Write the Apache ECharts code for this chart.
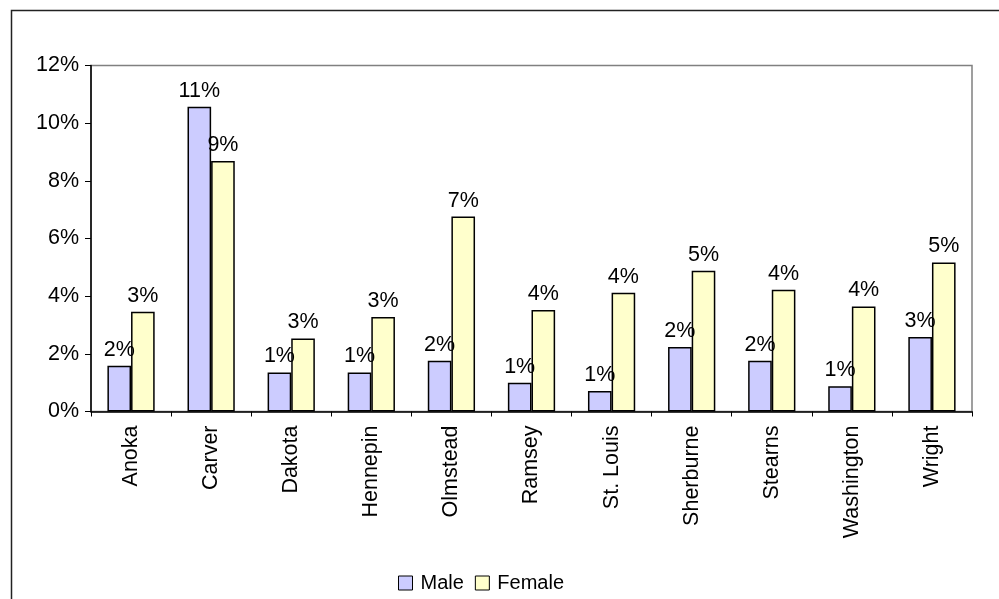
<!DOCTYPE html>
<html>
<head>
<meta charset="utf-8">
<script src="https://cdn.jsdelivr.net/npm/echarts@6/dist/echarts.min.js"></script>
<style>html,body{margin:0;padding:0;background:#fff}#c{width:999px;height:599px}</style>
</head>
<body>
<div id="c"></div>
<script>
const categories = ['Anoka','Carver','Dakota','Hennepin','Olmstead','Ramsey','St. Louis','Sherburne','Stearns','Washington','Wright'];
const maleValues = [1.59, 10.57, 1.35, 1.35, 1.76, 1.00, 0.71, 2.24, 1.76, 0.88, 2.58];
const femaleValues = [3.46, 8.69, 2.53, 3.28, 6.76, 3.52, 4.12, 4.88, 4.22, 3.64, 5.17];
const seriesNames = ['Male', 'Female'];
const yTicks = [0, 2, 4, 6, 8, 10, 12];

const FONT = 'Liberation Sans, Arial, sans-serif';
const chart = echarts.init(document.getElementById('c'), null, {renderer: 'canvas'});
const labelCfg = {
  show: true, position: 'top', distance: 5,
  color: '#000', fontFamily: FONT, fontSize: 21.5,
  formatter: p => Math.round(p.value) + '%'
};
chart.setOption({
  animation: false,
  backgroundColor: '#fff',
  graphic: [{
    type: 'rect', left: 9, top: 8, silent: true,
    shape: {x: 0, y: 0, width: 1100, height: 700},
    style: {fill: 'none', stroke: '#222', lineWidth: 1.5}
  }],
  grid: {left: 91, right: 27, top: 65.5, bottom: 187.5, show: true, borderColor: '#808080', borderWidth: 1.5, backgroundColor: '#fff'},
  legend: {
    left: 393, top: 568, itemWidth: 14, itemHeight: 14, itemGap: 11,
    icon: 'rect',
    textStyle: {fontFamily: FONT, fontSize: 20, color: '#000', padding: [0, 0, 0, 3]},
    itemStyle: {borderColor: '#000', borderWidth: 1},
    data: seriesNames
  },
  xAxis: {
    type: 'category', data: categories,
    axisLine: {lineStyle: {color: '#000', width: 1.5}},
    axisTick: {show: true, length: 5, lineStyle: {color: '#000'}},
    axisLabel: {rotate: 90, margin: 14, color: '#000', fontFamily: FONT, fontSize: 21.5, interval: 0}
  },
  yAxis: {
    type: 'value', min: yTicks[0], max: yTicks[yTicks.length - 1], interval: 2,
    splitLine: {show: false},
    axisLine: {show: true, lineStyle: {color: '#000', width: 1.5}},
    axisTick: {show: true, length: 6, lineStyle: {color: '#000'}},
    axisLabel: {margin: 12, color: '#000', fontFamily: FONT, fontSize: 21.5, formatter: '{value}%'}
  },
  series: [
    {name: seriesNames[0], type: 'bar', data: maleValues, barGap: '0%', barCategoryGap: '41%',
     itemStyle: {color: '#CCCCFF', borderColor: '#000', borderWidth: 1.5}, label: labelCfg},
    {name: seriesNames[1], type: 'bar', data: femaleValues, barGap: '0%', barCategoryGap: '41%',
     itemStyle: {color: '#FFFFCC', borderColor: '#000', borderWidth: 1.5}, label: labelCfg}
  ]
});
</script>
</body>
</html>
